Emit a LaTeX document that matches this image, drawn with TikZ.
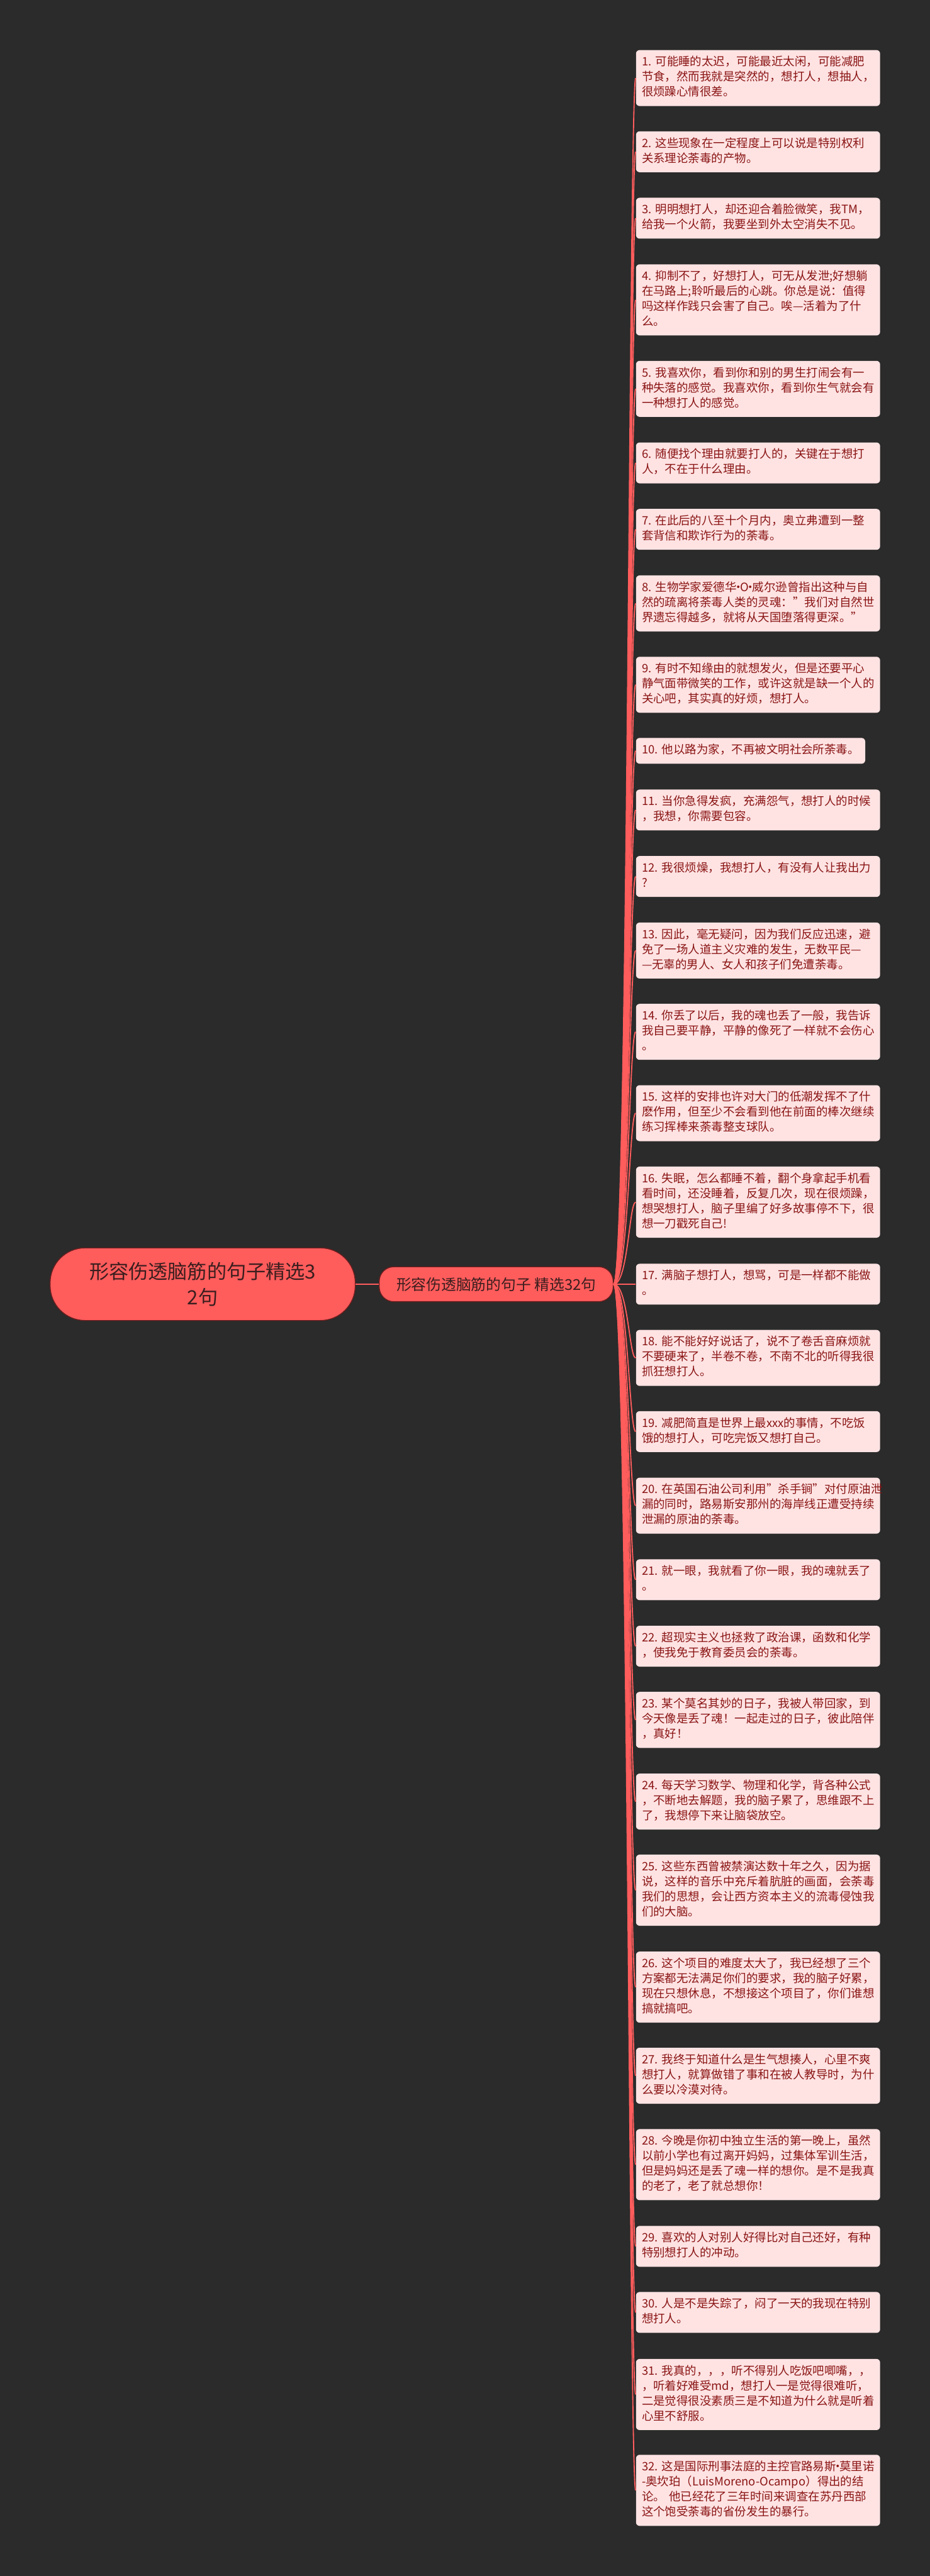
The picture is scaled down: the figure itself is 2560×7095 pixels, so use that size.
\documentclass[tikz,border=0pt]{standalone}
\usepackage{fontspec}
\setmainfont{Noto Sans CJK SC}
\usepackage{xcolor}
\usepackage{tikz}
\definecolor{bgcol}{HTML}{2B2B2B}
\definecolor{coral}{HTML}{FF5C5C}
\definecolor{coraledge}{HTML}{6B1E1E}
\definecolor{leaffill}{HTML}{FFE3E3}
\definecolor{leaftext}{HTML}{8A1515}
\definecolor{roottext}{HTML}{3A1E1E}
\newcommand{\dotmark}{\makebox[0.3em]{·}}

\begin{document}
\begin{tikzpicture}[x=0.25pt,y=-0.25pt,
    rootbox/.style={draw=coraledge,line width=0.6pt,fill=coral,text=roottext,rounded corners=24pt,
      minimum width=210pt,minimum height=50pt,align=center,font=\fontsize{13.5pt}{17.5pt}\selectfont},
    subbox/.style={draw=coraledge,line width=0.6pt,fill=coral,text=roottext,rounded corners=10pt,
      minimum width=161pt,minimum height=24pt,align=center,font=\fontsize{10.3pt}{13pt}\selectfont},
    leaf/.style={fill=leaffill,text=leaftext,rounded corners=2.5pt,anchor=west,text width=160pt,
      inner xsep=4pt,inner ysep=3.675pt,align=left,font=\fontsize{8pt}{10.4pt}\selectfont,
      execute at begin node=\strut,execute at end node=\strut},
    branch/.style={draw=coral,line width=0.8pt},
    trunk/.style={draw=coral,line width=1.25pt}]
    \useasboundingbox (0,0) rectangle (2560,7095);
    \fill[bgcol] (0,0) rectangle (2560,7095);

    \node[rootbox] (root) at (558,3537) {形容伤透脑筋的句子精选3\\2句};
    \node[subbox] (sub) at (1366,3537) {形容伤透脑筋的句子 精选32句};
    \draw[trunk] (root) -- (sub);

    \node[leaf] (s1) at (1750,215) {1.~可能睡的太迟，可能最近太闲，可能减肥\\节食，然而我就是突然的，想打人，想抽人，\\很烦躁心情很差。};
    \node[leaf] (s2) at (1750,418) {2.~这些现象在一定程度上可以说是特别权利\\关系理论荼毒的产物。};
    \node[leaf] (s3) at (1750,601) {3.~明明想打人，却还迎合着脸微笑，我TM，\\给我一个火箭，我要坐到外太空消失不见。};
    \node[leaf] (s4) at (1750,826) {4.~抑制不了，好想打人，可无从发泄;好想躺\\在马路上;聆听最后的心跳。你总是说：值得\\吗这样作践只会害了自己。唉---活着为了什\\么。};
    \node[leaf] (s5) at (1750,1071) {5.~我喜欢你，看到你和别的男生打闹会有一\\种失落的感觉。我喜欢你，看到你生气就会有\\一种想打人的感觉。};
    \node[leaf] (s6) at (1750,1275) {6.~随便找个理由就要打人的，关键在于想打\\人，不在于什么理由。};
    \node[leaf] (s7) at (1750,1458) {7.~在此后的八至十个月内，奥立弗遭到一整\\套背信和欺诈行为的荼毒。};
    \node[leaf] (s8) at (1750,1662) {8.~生物学家爱德华\dotmark O\dotmark 威尔逊曾指出这种与自\\然的疏离将荼毒人类的灵魂："我们对自然世\\界遗忘得越多，就将从天国堕落得更深。"};
    \node[leaf] (s9) at (1750,1886) {9.~有时不知缘由的就想发火，但是还要平心\\静气面带微笑的工作，或许这就是缺一个人的\\关心吧，其实真的好烦，想打人。};
    \node[leaf,text width=149.75pt] (s10) at (1750,2068) {10.~他以路为家，不再被文明社会所荼毒。};
    \node[leaf] (s11) at (1750,2231) {11.~当你急得发疯，充满怨气，想打人的时候\\，我想，你需要包容。};
    \node[leaf] (s12) at (1750,2414) {12.~我很烦燥，我想打人，有没有人让我出力\\?};
    \node[leaf] (s13) at (1750,2618) {13.~因此，毫无疑问，因为我们反应迅速，避\\免了一场人道主义灾难的发生，无数平民—\\—无辜的男人、女人和孩子们免遭荼毒。};
    \node[leaf] (s14) at (1750,2842) {14.~你丢了以后，我的魂也丢了一般，我告诉\\我自己要平静，平静的像死了一样就不会伤心\\。};
    \node[leaf] (s15) at (1750,3066) {15.~这样的安排也许对大门的低潮发挥不了什\\麽作用，但至少不会看到他在前面的棒次继续\\练习挥棒来荼毒整支球队。};
    \node[leaf] (s16) at (1750,3311) {16.~失眠，怎么都睡不着，翻个身拿起手机看\\看时间，还没睡着，反复几次，现在很烦躁，\\想哭想打人，脑子里编了好多故事停不下，很\\想一刀戳死自己!};
    \node[leaf] (s17) at (1750,3537) {17.~满脑子想打人，想骂，可是一样都不能做\\。};
    \node[leaf] (s18) at (1750,3740) {18.~能不能好好说话了，说不了卷舌音麻烦就\\不要硬来了，半卷不卷，不南不北的听得我很\\抓狂想打人。};
    \node[leaf] (s19) at (1750,3943) {19.~减肥简直是世界上最xxx的事情，不吃饭\\饿的想打人，可吃完饭又想打自己。};
    \node[leaf] (s20) at (1750,4147) {20.~在英国石油公司利用"杀手锏"对付原油泄\\漏的同时，路易斯安那州的海岸线正遭受持续\\泄漏的原油的荼毒。};
    \node[leaf] (s21) at (1750,4351) {21.~就一眼，我就看了你一眼，我的魂就丢了\\。};
    \node[leaf] (s22) at (1750,4534) {22.~超现实主义也拯救了政治课，函数和化学\\，使我免于教育委员会的荼毒。};
    \node[leaf] (s23) at (1750,4737) {23.~某个莫名其妙的日子，我被人带回家，到\\今天像是丢了魂！一起走过的日子，彼此陪伴\\，真好！};
    \node[leaf] (s24) at (1750,4962) {24.~每天学习数学、物理和化学，背各种公式\\，不断地去解题，我的脑子累了，思维跟不上\\了，我想停下来让脑袋放空。};
    \node[leaf] (s25) at (1750,5206) {25.~这些东西曾被禁演达数十年之久，因为据\\说，这样的音乐中充斥着肮脏的画面，会荼毒\\我们的思想，会让西方资本主义的流毒侵蚀我\\们的大脑。};
    \node[leaf] (s26) at (1750,5473) {26.~这个项目的难度太大了，我已经想了三个\\方案都无法满足你们的要求，我的脑子好累，\\现在只想休息，不想接这个项目了，你们谁想\\搞就搞吧。};
    \node[leaf] (s27) at (1750,5717) {27.~我终于知道什么是生气想揍人，心里不爽\\想打人，就算做错了事和在被人教导时，为什\\么要以冷漠对待。};
    \node[leaf] (s28) at (1750,5962) {28.~今晚是你初中独立生活的第一晚上，虽然\\以前小学也有过离开妈妈，过集体军训生活，\\但是妈妈还是丢了魂一样的想你。是不是我真\\的老了，老了就总想你！};
    \node[leaf] (s29) at (1750,6187) {29.~喜欢的人对别人好得比对自己还好，有种\\特别想打人的冲动。};
    \node[leaf] (s30) at (1750,6369) {30.~人是不是失踪了，闷了一天的我现在特别\\想打人。};
    \node[leaf] (s31) at (1750,6595) {31.~我真的，，，听不得别人吃饭吧唧嘴，，\\，听着好难受md，想打人一是觉得很难听，\\二是觉得很没素质三是不知道为什么就是听着\\心里不舒服。};
    \node[leaf] (s32) at (1750,6859) {32.~这是国际刑事法庭的主控官路易斯\dotmark 莫里诺\\-奥坎珀（LuisMoreno-Ocampo）得出的结\\论。 他已经花了三年时间来调查在苏丹西部\\这个饱受荼毒的省份发生的暴行。};

    \foreach \i in {1,...,32}
      \draw[branch] (sub.east) .. controls +(40,0) and +(-18,0) .. (s\i.west);
  \end{tikzpicture}
\end{document}
